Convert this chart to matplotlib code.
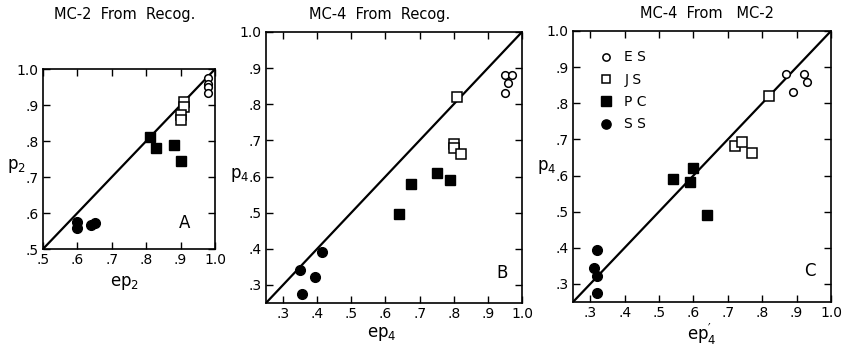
import matplotlib
matplotlib.use('Agg')
from matplotlib import pyplot as plt

plt.rcParams['font.family'] = 'DejaVu Sans'
plt.rcParams['mathtext.default'] = 'regular'

# panel A : MC-2 from Recog.
a_es_x = [0.98, 0.98, 0.98, 0.98]
a_es_y = [0.975, 0.96, 0.95, 0.935]
a_js_x = [0.91, 0.91, 0.90, 0.90]
a_js_y = [0.91, 0.895, 0.872, 0.858]
a_pc_x = [0.81, 0.83, 0.88, 0.90]
a_pc_y = [0.81, 0.78, 0.79, 0.745]
a_ss_x = [0.60, 0.60, 0.64, 0.65]
a_ss_y = [0.575, 0.558, 0.566, 0.572]

# panel B : MC-4 from Recog.
b_es_x = [0.95, 0.97, 0.96, 0.95]
b_es_y = [0.88, 0.88, 0.86, 0.832]
b_js_x = [0.81, 0.80, 0.80, 0.82]
b_js_y = [0.82, 0.69, 0.68, 0.662]
b_pc_x = [0.64, 0.675, 0.75, 0.79]
b_pc_y = [0.495, 0.58, 0.61, 0.59]
b_ss_x = [0.35, 0.355, 0.395, 0.415]
b_ss_y = [0.34, 0.275, 0.322, 0.392]

# panel C : MC-4 from MC-2
c_es_x = [0.87, 0.89, 0.92, 0.93]
c_es_y = [0.88, 0.832, 0.882, 0.86]
c_js_x = [0.82, 0.72, 0.74, 0.77]
c_js_y = [0.82, 0.682, 0.692, 0.662]
c_pc_x = [0.54, 0.59, 0.60, 0.64]
c_pc_y = [0.59, 0.582, 0.62, 0.49]
c_ss_x = [0.32, 0.31, 0.32, 0.32]
c_ss_y = [0.393, 0.345, 0.322, 0.275]

ticks_a = [0.5, 0.6, 0.7, 0.8, 0.9, 1.0]
ticks_bc = [0.3, 0.4, 0.5, 0.6, 0.7, 0.8, 0.9, 1.0]
labels_a = ['.5', '.6', '.7', '.8', '.9', '1.0']
labels_bc = ['.3', '.4', '.5', '.6', '.7', '.8', '.9', '1.0']


def draw_panel(ax, data, lo, ticks, labels, letter, letter_pos):
    es_x, es_y, js_x, js_y, pc_x, pc_y, ss_x, ss_y = data
    ax.plot([lo, 1.0], [lo, 1.0], color='black', lw=1.6, zorder=1)
    ax.plot(es_x, es_y, 'o', ms=5.5, mfc='white', mec='black', mew=1.1, ls='none', label='E S', zorder=3)
    ax.plot(js_x, js_y, 's', ms=6.5, mfc='white', mec='black', mew=1.1, ls='none', label='J S', zorder=3)
    ax.plot(pc_x, pc_y, 's', ms=7, color='black', ls='none', label='P C', zorder=3)
    ax.plot(ss_x, ss_y, 'o', ms=7, color='black', ls='none', label='S S', zorder=3)
    ax.set_xlim(lo, 1.0)
    ax.set_ylim(lo, 1.0)
    ax.set_xticks(ticks)
    ax.set_yticks(ticks)
    ax.set_xticklabels(labels)
    ax.set_yticklabels(labels)
    ax.tick_params(direction='in', top=True, right=True, length=5, width=1,
                   labelsize=10, pad=3)
    for s in ax.spines.values():
        s.set_linewidth(1.2)
    ax.text(letter_pos[0], letter_pos[1], letter, fontsize=12, ha='center', va='center')


fig = plt.figure(figsize=(8.46, 3.52), dpi=100)

ax_a = fig.add_axes([0.0508, 0.2926, 0.2033, 0.511])
ax_b = fig.add_axes([0.3144, 0.1392, 0.3026, 0.770])
ax_c = fig.add_axes([0.6773, 0.1420, 0.3050, 0.770])

draw_panel(ax_a, (a_es_x, a_es_y, a_js_x, a_js_y, a_pc_x, a_pc_y, a_ss_x, a_ss_y),
           0.5, ticks_a, labels_a, 'A', (0.913, 0.572))
draw_panel(ax_b, (b_es_x, b_es_y, b_js_x, b_js_y, b_pc_x, b_pc_y, b_ss_x, b_ss_y),
           0.25, ticks_bc, labels_bc, 'B', (0.941, 0.333))
draw_panel(ax_c, (c_es_x, c_es_y, c_js_x, c_js_y, c_pc_x, c_pc_y, c_ss_x, c_ss_y),
           0.25, ticks_bc, labels_bc, 'C', (0.939, 0.336))

ax_c.legend(loc='upper left', frameon=False, fontsize=10, handletextpad=0.3,
            labelspacing=0.6, borderaxespad=1.0, markerscale=0.95)

# titles
fig.text(125 / 846, 1 - 14 / 352, 'MC-2  From  Recog.', ha='center', va='center', fontsize=10.5)
fig.text(380 / 846, 1 - 14 / 352, 'MC-4  From  Recog.', ha='center', va='center', fontsize=10.5)
fig.text(707 / 846, 1 - 14 / 352, 'MC-4  From   MC-2', ha='center', va='center', fontsize=10.5)

# axis labels
fig.text(16 / 846, 1 - 166 / 352, '$p_2$', ha='center', va='center', fontsize=12)
fig.text(125 / 846, 1 - 283 / 352, '$ep_2$', ha='center', va='center', fontsize=12)
fig.text(240 / 846, 1 - 175 / 352, '$p_4$', ha='center', va='center', fontsize=12)
fig.text(382 / 846, 1 - 334 / 352, '$ep_4$', ha='center', va='center', fontsize=12)
fig.text(547 / 846, 1 - 167 / 352, '$p_4$', ha='center', va='center', fontsize=12)
fig.text(702 / 846, 1 - 334 / 352, r'$ep_4^{\prime}$', ha='center', va='center', fontsize=12)

fig.savefig('out.png', dpi=100)
